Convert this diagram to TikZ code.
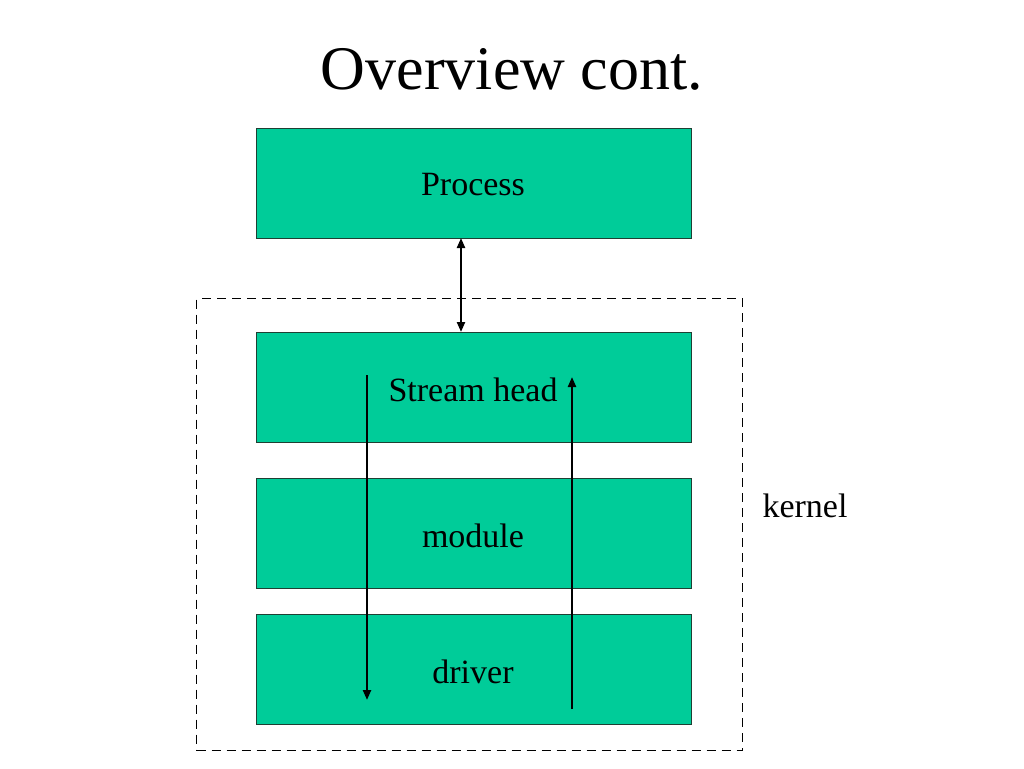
\documentclass[tikz,border=0pt]{standalone}
\usepackage{fontspec}
\setmainfont{Liberation Serif}
\usetikzlibrary{arrows.meta}
\definecolor{boxgreen}{HTML}{00CC99}
\definecolor{boxedge}{HTML}{1F3F33}
\begin{document}
\begin{tikzpicture}[x=1pt,y=-1pt,
  layer/.style={draw=boxedge,line width=1pt,fill=boxgreen,minimum width=435pt,minimum height=110pt,inner sep=0pt,font=\fontsize{34}{40}\selectfont,anchor=north west},
  flow/.style={line width=2.2pt,-{Triangle[length=10pt,width=8pt]}},
  both/.style={line width=2.2pt,{Triangle[length=10pt,width=8pt]}-{Triangle[length=10pt,width=8pt]}}]
\useasboundingbox (0,0) rectangle (1024,768);
\node[font=\fontsize{62}{70}\selectfont] (title) at (512,69) {Overview cont.};
\node[draw,line width=1pt,dash pattern=on 9pt off 6pt,minimum width=546pt,minimum height=452pt,inner sep=0pt,anchor=north west] (kbox) at (196,298) {};
\node[layer,text depth=0pt,text height=0pt] (proc) at (256,128) {};
\node[font=\fontsize{34}{40}\selectfont] (proct) at (473,185) {Process};
\node[layer] (shead) at (256,332) {};
\node[font=\fontsize{34}{40}\selectfont] (sheadt) at (473,390) {Stream head};
\node[layer] (mod) at (256,478) {};
\node[font=\fontsize{34}{40}\selectfont] (modt) at (473,536) {module};
\node[layer] (drv) at (256,614) {};
\node[font=\fontsize{34}{40}\selectfont] (drvt) at (473,672) {driver};
\node[font=\fontsize{34}{40}\selectfont] (kern) at (805,506) {kernel};
\coordinate (ptop) at (461,238);
\coordinate (pbot) at (461,332);
\draw[both] (ptop) -- (pbot);
\coordinate (dstart) at (367,375);
\coordinate (dend) at (367,700);
\draw[flow] (dstart) -- (dend);
\coordinate (ustart) at (572,709);
\coordinate (uend) at (572,377);
\draw[flow] (ustart) -- (uend);
\end{tikzpicture}
\end{document}
